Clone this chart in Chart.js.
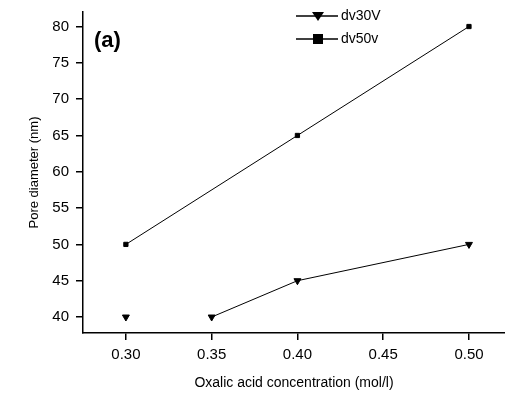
<!DOCTYPE html>
<html>
<head>
<meta charset="utf-8">
<script src="https://cdn.jsdelivr.net/npm/chart.js@4/dist/chart.umd.min.js"></script>
<style>
  html, body { margin: 0; padding: 0; background: #fff; }
  #wrap { width: 505px; height: 400px; }
</style>
</head>
<body>
<div id="wrap"><canvas id="myChart"></canvas></div>
<script>
// values
const conc30 = [0.30, 0.35, 0.40, 0.50];
const dv30 = [40, 40, 45, 50];
const conc50 = [0.30, 0.40, 0.50];
const dv50 = [50, 65, 80];
const xTicks = [0.30, 0.35, 0.40, 0.45, 0.50];
const yTicks = [40, 45, 50, 55, 60, 65, 70, 75, 80];
const seriesNames = ["dv30V", "dv50v"];

const FONT = "'Liberation Sans', Arial, sans-serif";

// legend + panel label drawn inside the plot
const panelLegend = {
  id: "panelLegend",
  afterDraw(chart) {
    const ctx = chart.ctx;
    ctx.save();
    ctx.fillStyle = "#000";
    ctx.strokeStyle = "#000";
    ctx.textBaseline = "middle";

    ctx.font = "bold 22px " + FONT;
    ctx.fillText("(a)", 94, 41);

    const rows = [
      { y: 16, style: "tri" },
      { y: 39, style: "sq" },
    ];
    ctx.font = "14px " + FONT;
    rows.forEach((r, i) => {
      ctx.lineWidth = 1.3;
      ctx.beginPath();
      ctx.moveTo(296, r.y);
      ctx.lineTo(338, r.y);
      ctx.stroke();
      ctx.beginPath();
      if (r.style === "tri") {
        ctx.moveTo(312, r.y - 4);
        ctx.lineTo(324, r.y - 4);
        ctx.lineTo(318, r.y + 5);
      } else {
        ctx.rect(313, r.y - 5, 10, 10);
      }
      ctx.closePath();
      ctx.fill();
      ctx.fillText(seriesNames[i], 341, r.y);
    });
    ctx.restore();
  },
};

new Chart(document.getElementById("myChart"), {
  type: "line",
  data: {
    datasets: [
      {
        label: seriesNames[0],
        data: conc30.map((x, i) => ({ x: x, y: dv30[i] })),
        borderColor: "#000",
        backgroundColor: "#000",
        borderWidth: 1,
        pointStyle: "triangle",
        rotation: 180,
        pointRadius: 4,
        clip: false,
        segment: {
          borderColor: (c) => (c.p0DataIndex === 0 ? "rgba(0,0,0,0)" : "#000"),
        },
      },
      {
        label: seriesNames[1],
        data: conc50.map((x, i) => ({ x: x, y: dv50[i] })),
        borderColor: "#000",
        backgroundColor: "#000",
        borderWidth: 1,
        pointStyle: "rect",
        pointRadius: 3,
        clip: false,
      },
    ],
  },
  options: {
    responsive: true,
    maintainAspectRatio: false,
    animation: false,
    layout: { autoPadding: false, padding: { top: 12, right: 0, bottom: 0, left: 0 } },
    plugins: {
      legend: { display: false },
      tooltip: { enabled: false },
    },
    scales: {
      x: {
        type: "linear",
        min: 0.275,
        max: 0.521,
        afterBuildTicks: (s) => {
          s.ticks = xTicks.map((v) => ({ value: v }));
        },
        afterFit: (s) => {
          s.height = 67;
          s.paddingLeft = 0;
          s.paddingRight = 0;
        },
        border: { display: true, color: "#000", width: 1.5 },
        grid: { drawOnChartArea: false, drawTicks: true, tickLength: 7, color: "#000", lineWidth: 1.5 },
        ticks: {
          color: "#000",
          padding: 6,
          maxRotation: 0,
          font: { family: FONT, size: 15 },
          callback: (v) => Number(v).toFixed(2),
        },
        title: {
          display: true,
          text: "Oxalic acid concentration (mol/l)",
          color: "#000",
          font: { family: FONT, size: 14 },
          padding: { top: 0, bottom: 8 },
        },
      },
      y: {
        type: "linear",
        min: 37.8,
        max: 82,
        afterBuildTicks: (s) => {
          s.ticks = yTicks.map((v) => ({ value: v }));
        },
        afterFit: (s) => {
          s.width = 83;
          s.paddingTop = 0;
          s.paddingBottom = 0;
        },
        border: { display: true, color: "#000", width: 1.5 },
        grid: { drawOnChartArea: false, drawTicks: true, tickLength: 7, color: "#000", lineWidth: 1.5 },
        ticks: {
          color: "#000",
          padding: 7,
          font: { family: FONT, size: 15 },
        },
        title: {
          display: true,
          text: "Pore diameter (nm)",
          color: "#000",
          font: { family: FONT, size: 13 },
          padding: { top: 27, bottom: 0 },
        },
      },
    },
  },
  plugins: [panelLegend],
});
</script>
</body>
</html>
